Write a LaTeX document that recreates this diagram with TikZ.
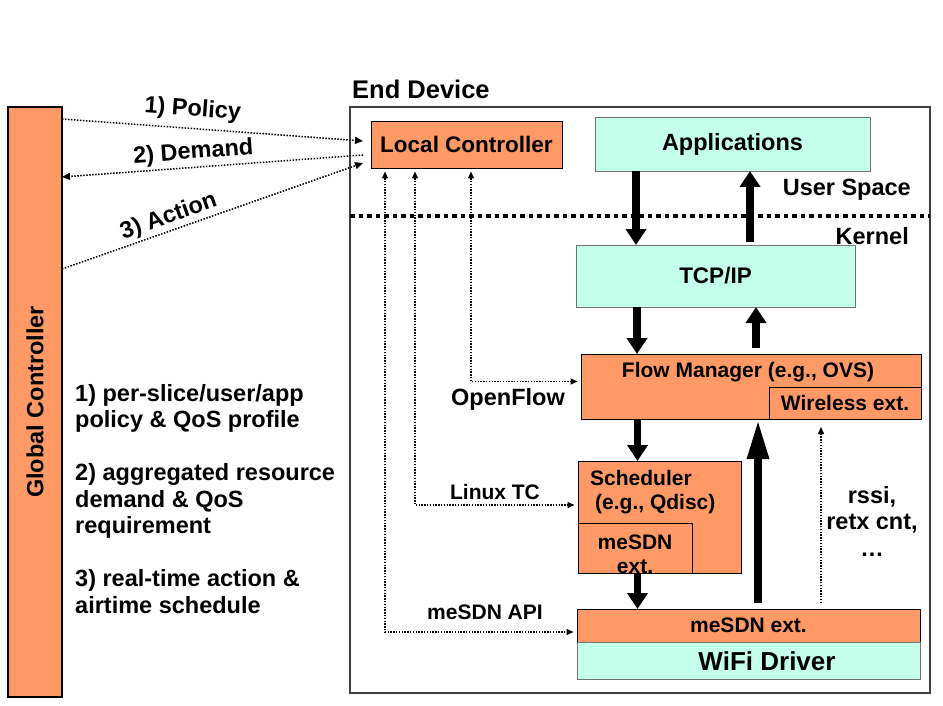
\documentclass[tikz,border=0pt]{standalone}
\usepackage{fontspec}
\setmainfont{Liberation Sans}
\usetikzlibrary{arrows.meta,positioning,calc}
\definecolor{boxorange}{HTML}{FF9966}
\definecolor{boxcyan}{HTML}{C4FFEC}
\newcommand{\bigfont}{\bfseries\fontsize{23.5}{26.5}\selectfont}
\newcommand{\midfont}{\bfseries\fontsize{22.5}{26}\selectfont}
\newcommand{\smallfont}{\bfseries\fontsize{21}{24}\selectfont}

\begin{document}
\begin{tikzpicture}[
    x=1pt, y=-1pt,
    kernbox/.style={rectangle, draw, line width=0.8pt, fill=boxorange, inner sep=0pt, outer sep=0pt, align=center, font=\smallfont},
    userbox/.style={rectangle, draw=black!55, line width=0.8pt, fill=boxcyan, inner sep=0pt, outer sep=0pt, align=center, font=\bigfont},
    txt/.style={font=\bigfont, inner sep=0pt},
    smalltxt/.style={font=\smallfont, inner sep=0pt},
    fat/.style={line width=7.5pt, -{Triangle[width=20pt,length=16pt]}},
    fatter/.style={line width=8.3pt, -{Triangle[width=20pt,length=40pt]}},
    glink/.style={line width=1.5pt, dash pattern=on 1.5pt off 1.5pt, -{Triangle[width=7pt,length=8pt]}},
    link/.style={line width=1.4pt, dash pattern=on 1.4pt off 1.4pt, {Triangle[width=6pt,length=7pt]}-{Triangle[width=6pt,length=7pt]}},
    uplink/.style={line width=1.4pt, dash pattern=on 1.4pt off 1.4pt, -{Triangle[width=6pt,length=7pt]}},
    sep/.style={line width=4pt, dash pattern=on 4.5pt off 4pt}
]
    \useasboundingbox (0,0) rectangle (943,706);

    % Global controller
    \node[kernbox, line width=1.2pt, minimum width=54pt, minimum height=590pt] (gc) at (35,402) {};
    \node[txt, rotate=90] (gctext) at (gc.center) {Global Controller};
    \node[txt, align=left, anchor=north west] (notes) at (75,384) {1) per-slice/user/app\\policy \& QoS profile\\[26.5pt]2) aggregated resource\\demand \& QoS\\requirement\\[26.5pt]3) real-time action \&\\airtime schedule};

    % End device frame
    \node[draw=black!75, line width=1.5pt, minimum width=580pt, minimum height=586pt, inner sep=0pt, outer sep=0pt] (ed) at (640,400) {};
    \node[font=\bfseries\fontsize{25.5}{28}\selectfont, inner sep=0pt, anchor=base west] (edtitle) at (352,99) {End Device};

    % User space / kernel split
    \coordinate (kl) at ([yshift=-109pt]ed.north west);
    \draw[sep] (kl) -- (kl -| ed.east);
    \node[txt, anchor=east] (us) at (911,190) {User Space};
    \node[txt, anchor=east] (kn) at (909,236) {Kernel};

    % Boxes
    \node[kernbox, font=\midfont, minimum width=191pt, minimum height=47pt] (lc) at (466.5,144.5) {Local Controller};
    \node[userbox, minimum width=275pt, minimum height=54pt] (app) at (732.5,144) {Applications};
    \node[userbox, font=\midfont, minimum width=279pt, minimum height=62pt] (tcp) at (715.5,276) {TCP/IP};
    \node[kernbox, minimum width=340pt, minimum height=65pt] (fm) at (751,386.5) {};
    \node[smalltxt] (fmtext) at (748,372) {Flow Manager (e.g., OVS)};
    \node[kernbox, minimum width=152pt, minimum height=32pt] (wext) at (845,403) {Wireless ext.};
    \node[kernbox, minimum width=163pt, minimum height=112pt] (sch) at (659.5,517) {};
    \node[smalltxt, align=left, anchor=north west] (schtext) at (590,470) {Scheduler\\\hspace*{5pt}(e.g., Qdisc)};
    \node[kernbox, minimum width=114pt, minimum height=50pt] (sext) at (635,548) {};
    \node[smalltxt, align=center] (sexttext) at (635,554) {meSDN\\ext.};
    \node[kernbox, minimum width=343pt, minimum height=33pt] (mext) at (748.5,625.5) {meSDN ext.};
    \node[userbox, minimum width=343pt, minimum height=37pt] (wifi) at (748.5,660.5) {};
    \node[font=\bfseries\fontsize{26}{30}\selectfont, inner sep=0pt] (wifitext) at (767,661) {WiFi Driver};
    \node[txt, align=center] (rssi) at (872,521) {rssi,\\retx cnt,\\…};

    % Data path
    \coordinate (d1) at ([xshift=41pt]app.south west);
    \draw[fat] (d1) -- (d1 |- tcp.north);
    \coordinate (u1) at ([xshift=174pt,yshift=3.5pt]tcp.north west);
    \draw[fat] (u1) -- (u1 |- app.south);
    \coordinate (d2) at ([xshift=61pt]tcp.south west);
    \draw[fat] (d2) -- (d2 |- fm.north);
    \coordinate (u2) at ([xshift=175pt,yshift=6pt]fm.north west);
    \draw[fat] (u2) -- (u2 |- tcp.south);
    \coordinate (d3) at ([xshift=56.5pt]fm.south west);
    \draw[fat] (d3) -- (d3 |- sch.north);
    \coordinate (d4) at ([xshift=59.5pt]sch.south west);
    \draw[fat] (d4) -- (d4 |- mext.north);
    \coordinate (u3) at ([xshift=181pt,yshift=6pt]mext.north west);
    \draw[fatter] (u3) -- (u3 |- wext.south);
    \coordinate (u4) at ([xshift=244pt,yshift=6pt]mext.north west);
    \draw[uplink, shorten >=8pt] (u4) -- (u4 |- wext.south);

    % Control interfaces
    \coordinate (of) at ([xshift=100pt,yshift=-3.5pt]lc.south west);
    \draw[link] (of) |- ([xshift=-3.5pt,yshift=5pt]fm.west);
    \node[txt] (oftext) at (508,399) {OpenFlow};
    \coordinate (tc) at ([xshift=44pt,yshift=-3.5pt]lc.south west);
    \draw[link] (tc) |- ([xshift=-3.5pt,yshift=12pt]sch.west);
    \node[smalltxt] (tctext) at (495,492) {Linux TC};
    \coordinate (api) at ([xshift=14pt,yshift=-3.5pt]lc.south west);
    \draw[link] (api) |- ([xshift=-3.5pt,yshift=-6.5pt]mext.west);
    \node[smalltxt] (apitext) at (485,612) {meSDN API};

    % Global <-> local
    \draw[glink] ([yshift=-12pt]gc.north east) -- node[txt, sloped, above=7pt, pos=0.43] {1) Policy} ([xshift=-8pt,yshift=3.5pt]lc.west);
    \draw[glink] ([xshift=-8pt,yshift=-10.5pt]lc.west) -- node[txt, sloped, above=3pt, pos=0.56] {2) Demand} ([yshift=-70pt]gc.north east);
    \draw[glink] ([yshift=-162pt]gc.north east) -- node[txt, sloped, above=2pt, pos=0.37] {3) Action} ([xshift=-8pt,yshift=-18.5pt]lc.west);
\end{tikzpicture}
\end{document}
